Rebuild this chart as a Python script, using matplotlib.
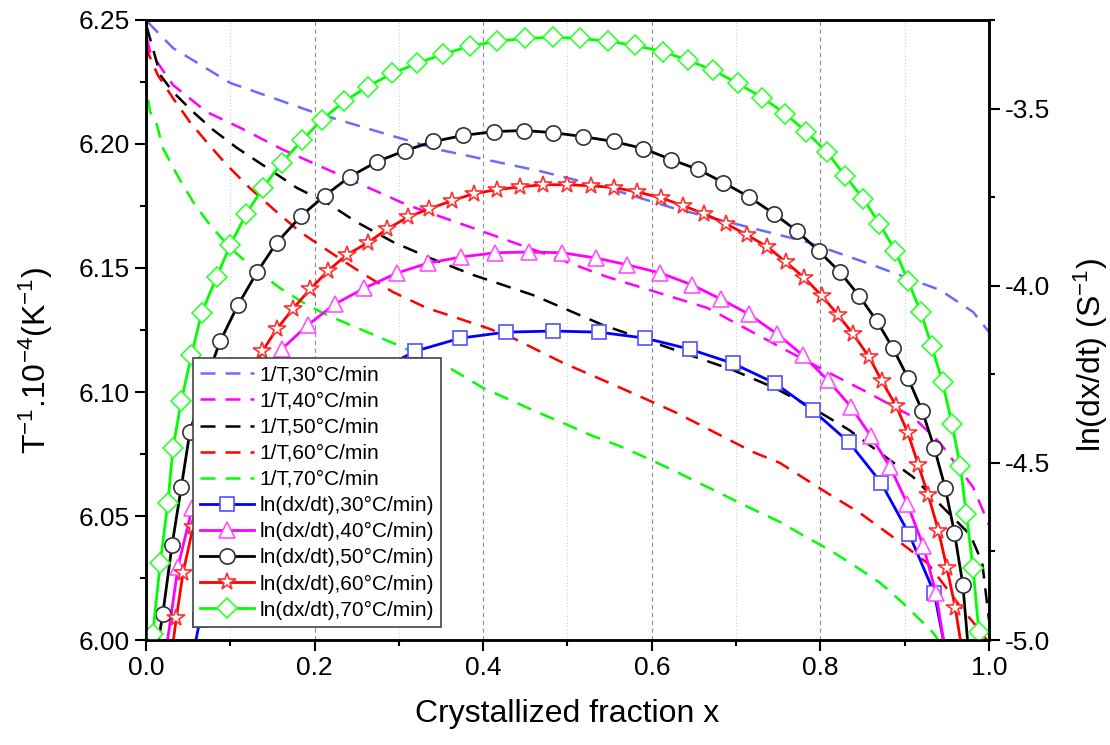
import matplotlib
matplotlib.use("Agg")
import matplotlib.pyplot as plt
from matplotlib.ticker import MultipleLocator, FormatStrFormatter

# === 1/T curves (left axis, T^-1 x 10^-4) ===
x_T30 = [0.002, 0.032, 0.100, 0.198, 0.269, 0.349, 0.467, 0.547, 0.625, 0.705, 0.784, 0.862, 0.942, 0.981, 1.000]
T30 = [6.2492, 6.2387, 6.2246, 6.2129, 6.2056, 6.1976, 6.1891, 6.1823, 6.1742, 6.1673, 6.1605, 6.1512, 6.1411, 6.1323, 6.1242]

x_T40 = [0.001, 0.005, 0.032, 0.072, 0.112, 0.163, 0.230, 0.310, 0.388, 0.467, 0.547, 0.666, 0.764, 0.815, 0.855, 0.910, 0.942, 0.981, 1.000]
T40 = [6.2427, 6.2371, 6.2238, 6.2129, 6.2065, 6.1976, 6.1875, 6.1754, 6.1661, 6.1565, 6.1464, 6.1339, 6.1160, 6.1069, 6.1000, 6.0899, 6.0794, 6.0617, 6.0464]

x_T50 = [0.001, 0.017, 0.032, 0.056, 0.080, 0.108, 0.144, 0.179, 0.215, 0.250, 0.293, 0.337, 0.388, 0.459, 0.542,
         0.645, 0.696, 0.746, 0.791, 0.834, 0.871, 0.910, 0.945, 0.978, 0.992, 1.000]
T50 = [6.2472, 6.2278, 6.2210, 6.2129, 6.2056, 6.1984, 6.1903, 6.1823, 6.1762, 6.1685, 6.1605, 6.1540, 6.1472, 6.1391, 6.1270,
       6.1149, 6.1089, 6.1016, 6.0935, 6.0847, 6.0754, 6.0657, 6.0536, 6.0423, 6.0310, 6.0081]

x_T60 = [0.000, 0.002, 0.014, 0.032, 0.052, 0.072, 0.096, 0.123, 0.155, 0.183, 0.218, 0.254, 0.293, 0.333, 0.405,
         0.435, 0.495, 0.542, 0.590, 0.630, 0.685, 0.720, 0.752, 0.808, 0.847, 0.891, 0.927, 0.945, 0.969, 0.989, 0.999]
T60 = [6.2500, 6.2371, 6.2278, 6.2185, 6.2089, 6.2008, 6.1915, 6.1823, 6.1726, 6.1645, 6.1565, 6.1484, 6.1403, 6.1339, 6.1258,
       6.1218, 6.1117, 6.1048, 6.0976, 6.0915, 6.0819, 6.0758, 6.0714, 6.0593, 6.0512, 6.0403, 6.0310, 6.0230, 6.0121, 6.0040, 5.9992]

x_T70 = [0.000, 0.001, 0.005, 0.013, 0.020, 0.037, 0.056, 0.076, 0.100, 0.127, 0.159, 0.191, 0.215, 0.298, 0.364, 0.400,
         0.432, 0.464, 0.495, 0.527, 0.559, 0.594, 0.625, 0.649, 0.685, 0.717, 0.752, 0.779, 0.811, 0.843, 0.871, 0.898,
         0.922, 0.934, 0.944]
T70 = [6.2278, 6.2210, 6.2129, 6.2077, 6.1984, 6.1875, 6.1766, 6.1673, 6.1581, 6.1500, 6.1419, 6.1351, 6.1310, 6.1190, 6.1089, 6.1016,
       6.0968, 6.0919, 6.0875, 6.0827, 6.0786, 6.0734, 6.0685, 6.0645, 6.0585, 6.0532, 6.0476, 6.0423, 6.0363, 6.0294, 6.0230, 6.0149,
       6.0069, 6.0028, 5.9980]

# === ln(dx/dt) curves (right axis); first and last points are where the curve leaves the frame ===
x_ln30 = [0.057, 0.064, 0.076, 0.094, 0.117, 0.147, 0.183, 0.224, 0.268, 0.319, 0.373, 0.427, 0.483, 0.537, 0.592,
          0.645, 0.696, 0.746, 0.791, 0.834, 0.872, 0.905, 0.935, 0.947]
ln30 = [-5.028, -4.943, -4.830, -4.708, -4.590, -4.485, -4.391, -4.315, -4.250, -4.185, -4.148, -4.131, -4.128, -4.131, -4.148,
        -4.179, -4.219, -4.275, -4.352, -4.442, -4.556, -4.700, -4.867, -5.014]

x_ln40 = [0.024, 0.038, 0.055, 0.074, 0.095, 0.117, 0.139, 0.161, 0.192, 0.224, 0.259, 0.298, 0.335, 0.374, 0.414, 0.454,
          0.494, 0.534, 0.571, 0.610, 0.648, 0.682, 0.715, 0.749, 0.779, 0.809, 0.836, 0.860, 0.883, 0.903, 0.922, 0.937, 0.947]
ln40 = [-5.028, -4.793, -4.626, -4.505, -4.400, -4.312, -4.241, -4.179, -4.111, -4.052, -4.007, -3.964, -3.936, -3.919, -3.907, -3.905,
        -3.907, -3.922, -3.941, -3.964, -3.998, -4.038, -4.080, -4.137, -4.196, -4.267, -4.341, -4.425, -4.513, -4.615, -4.734, -4.867, -5.014]

x_ln50 = [0.013, 0.020, 0.031, 0.042, 0.052, 0.069, 0.088, 0.109, 0.132, 0.155, 0.184, 0.212, 0.242, 0.274, 0.307, 0.341,
          0.376, 0.413, 0.448, 0.483, 0.518, 0.555, 0.590, 0.623, 0.655, 0.685, 0.715, 0.745, 0.772, 0.798, 0.823, 0.846,
          0.867, 0.886, 0.904, 0.921, 0.935, 0.948, 0.959, 0.969, 0.975]
ln50 = [-5.028, -4.926, -4.731, -4.567, -4.414, -4.281, -4.157, -4.055, -3.961, -3.879, -3.803, -3.746, -3.692, -3.650, -3.619, -3.593,
        -3.576, -3.565, -3.562, -3.568, -3.579, -3.593, -3.613, -3.644, -3.672, -3.709, -3.749, -3.797, -3.845, -3.902, -3.961, -4.029,
        -4.100, -4.176, -4.261, -4.355, -4.457, -4.570, -4.697, -4.844, -5.014]

x_ln60 = [0.031, 0.036, 0.044, 0.056, 0.070, 0.087, 0.104, 0.121, 0.138, 0.155, 0.174, 0.195, 0.216, 0.238, 0.263, 0.286,
          0.311, 0.336, 0.363, 0.389, 0.416, 0.444, 0.471, 0.499, 0.528, 0.555, 0.582, 0.611, 0.637, 0.662, 0.688, 0.713,
          0.737, 0.759, 0.781, 0.802, 0.821, 0.839, 0.858, 0.873, 0.890, 0.904, 0.916, 0.928, 0.940, 0.950, 0.960, 0.967]
ln60 = [-5.028, -4.938, -4.810, -4.680, -4.561, -4.454, -4.357, -4.270, -4.185, -4.123, -4.066, -4.009, -3.958, -3.913, -3.879, -3.840,
        -3.806, -3.783, -3.760, -3.740, -3.729, -3.721, -3.715, -3.715, -3.718, -3.723, -3.735, -3.752, -3.774, -3.797, -3.825, -3.857,
        -3.890, -3.933, -3.978, -4.029, -4.083, -4.137, -4.202, -4.270, -4.340, -4.417, -4.505, -4.592, -4.691, -4.796, -4.909, -5.014]

x_ln70 = [0.006, 0.008, 0.017, 0.026, 0.032, 0.042, 0.054, 0.066, 0.084, 0.100, 0.119, 0.139, 0.161, 0.185, 0.209, 0.235,
          0.263, 0.292, 0.322, 0.352, 0.384, 0.416, 0.450, 0.483, 0.515, 0.548, 0.580, 0.613, 0.643, 0.673, 0.702, 0.731,
          0.758, 0.783, 0.808, 0.829, 0.851, 0.870, 0.889, 0.904, 0.919, 0.932, 0.945, 0.956, 0.966, 0.973, 0.981, 0.988, 0.991]
ln70 = [-5.023, -4.983, -4.782, -4.612, -4.459, -4.324, -4.196, -4.077, -3.975, -3.885, -3.797, -3.723, -3.653, -3.590, -3.531, -3.480,
        -3.438, -3.401, -3.372, -3.347, -3.324, -3.310, -3.302, -3.299, -3.302, -3.310, -3.322, -3.339, -3.364, -3.392, -3.429, -3.469,
        -3.514, -3.565, -3.624, -3.689, -3.755, -3.825, -3.902, -3.987, -4.074, -4.171, -4.273, -4.389, -4.510, -4.643, -4.796, -4.977, -5.014]

rates = ["30", "40", "50", "60", "70"]

plt.rcParams["font.family"] = ["Liberation Sans", "DejaVu Sans"]
plt.rcParams["mathtext.fontset"] = "custom"
plt.rcParams["mathtext.rm"] = "Liberation Sans"
plt.rcParams["mathtext.it"] = "Liberation Sans:italic"
plt.rcParams["mathtext.default"] = "regular"

fig = plt.figure(figsize=(11.1, 7.45), dpi=100)
ax = fig.add_axes([0.1315, 0.1409, 0.7595, 0.8323])
ax2 = ax.twinx()

# dashed 1/T lines
dash_cols = ["#6b6bff", "#ff00ff", "#000000", "#ff0000", "#00ff00"]
T_x = [x_T30, x_T40, x_T50, x_T60, x_T70]
T_y = [T30, T40, T50, T60, T70]
handles = []
for xs, ys, c, r in zip(T_x, T_y, dash_cols, rates):
    h, = ax.plot(xs, ys, color=c, lw=1.8, ls=(0, (6, 4)), label="1/T," + r + "°C/min")
    handles.append(h)

# solid ln(dx/dt) lines with open markers
line_cols = ["#0000ff", "#ff00ff", "#000000", "#ff0000", "#00ff00"]
edge_cols = ["#5050ff", "#ff50ff", "#333333", "#ff3030", "#30ff30"]
mks = ["s", "^", "o", "*", "D"]
msz = [10, 12, 11, 13, 10.5]
ln_x = [x_ln30, x_ln40, x_ln50, x_ln60, x_ln70]
ln_y = [ln30, ln40, ln50, ln60, ln70]
for xs, ys, c, ec, m, s, r in zip(ln_x, ln_y, line_cols, edge_cols, mks, msz, rates):
    h, = ax2.plot(xs, ys, color=c, lw=2.0, marker=m, ms=s, mfc="white", mec=ec, mew=1.2,
                  markevery=slice(1, len(xs) - 1), label="ln(dx/dt)," + r + "°C/min)")
    handles.append(h)

ax.set_xlim(0, 1.0)
ax.set_ylim(6.00, 6.25)
ax2.set_ylim(-5.0, -3.25)

ax.xaxis.set_major_locator(MultipleLocator(0.2))
ax.xaxis.set_minor_locator(MultipleLocator(0.1))
ax.yaxis.set_major_locator(MultipleLocator(0.05))
ax.yaxis.set_minor_locator(MultipleLocator(0.025))
ax2.yaxis.set_major_locator(MultipleLocator(0.5))
ax2.yaxis.set_minor_locator(MultipleLocator(0.25))
ax.xaxis.set_major_formatter(FormatStrFormatter("%.1f"))
ax.yaxis.set_major_formatter(FormatStrFormatter("%.2f"))
ax2.yaxis.set_major_formatter(FormatStrFormatter("%.1f"))

ax.tick_params(which="both", direction="out", width=1.5, labelsize=19, top=False, right=False)
ax.tick_params(which="major", length=8)
ax.tick_params(which="minor", length=4)
ax2.tick_params(which="both", direction="out", width=1.5, labelsize=19)
ax2.tick_params(which="major", length=8)
ax2.tick_params(which="minor", length=4)

for a in (ax, ax2):
    for sp in a.spines.values():
        sp.set_linewidth(1.8)

ax.set_axisbelow(True)
ax.grid(which="major", axis="x", color="#8a8a8a", ls=(0, (4, 3)), lw=0.8)
ax.grid(which="minor", axis="x", color="#cfcfcf", ls=(0, (1, 2)), lw=0.8)

ax.set_xlabel("Crystallized fraction x", fontsize=23, labelpad=14)
ax.set_ylabel(r"T$^{-1}$.10$^{-4}$(K$^{-1}$)", fontsize=23)
ax2.set_ylabel(r"ln(dx/dt) (S$^{-1}$)", fontsize=23)
ax.yaxis.set_label_coords(-0.108, 0.45)
ax2.yaxis.set_label_coords(1.098, 0.46)

leg = ax2.legend(handles=handles, loc="lower left", bbox_to_anchor=(0.0558, 0.021), borderaxespad=0,
                 fontsize=15, handlelength=2.6, handletextpad=0.25, labelspacing=0.34,
                 borderpad=0.35, fancybox=False, framealpha=1, edgecolor="#444444")
leg.get_frame().set_linewidth(1.2)

fig.savefig("out.png", dpi=100)
